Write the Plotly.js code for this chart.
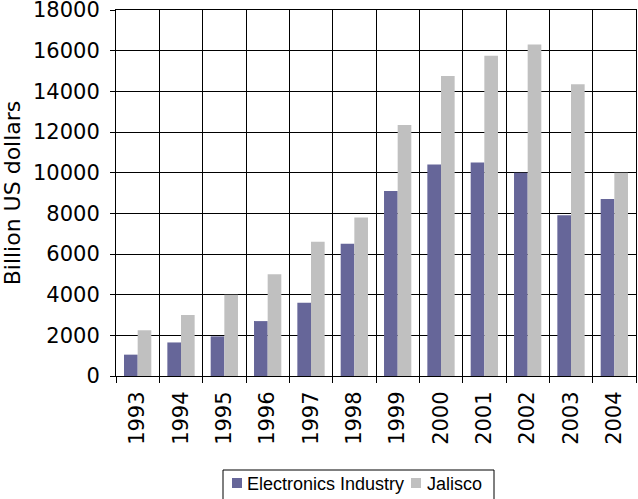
<!DOCTYPE html>
<html>
<head>
<meta charset="utf-8">
<script src="https://cdn.plot.ly/plotly-3.0.1.min.js"></script>
<style>
  html, body { margin: 0; padding: 0; background: #ffffff; }
  #chart { width: 638px; height: 499px; }
</style>
</head>
<body>
<div id="chart"></div>
<script>
// Annual values, billion US dollars
const years = ['1993', '1994', '1995', '1996', '1997', '1998',
               '1999', '2000', '2001', '2002', '2003', '2004'];
const electronicsIndustry = [1050, 1650, 1950, 2700, 3600, 6500,
                             9100, 10400, 10500, 10000, 7900, 8700];
const jalisco = [2250, 3000, 4000, 5000, 6600, 7800,
                 12350, 14750, 15750, 16300, 14350, 10000];
const yTicks = [0, 2000, 4000, 6000, 8000, 10000, 12000, 14000, 16000, 18000];

const seriesNames = ['Electronics Industry', 'Jalisco'];
const seriesColors = ['#666699', '#c0c0c0'];

// Plot-area geometry in pixels
const W = 638, H = 499;
const M = { l: 116, r: 2, t: 10, b: 123 };
const plotW = W - M.l - M.r;
const plotH = H - M.t - M.b;
const px = (x) => (x - M.l) / plotW;          // pixel x -> paper x
const py = (y) => (H - M.b - y) / plotH;      // pixel y -> paper y

const traces = [electronicsIndustry, jalisco].map((vals, i) => ({
  type: 'bar',
  name: seriesNames[i],
  x: years,
  y: vals,
  marker: { color: seriesColors[i], line: { width: 0 } },
  hoverinfo: 'skip'
}));

// Boxed legend below the axis: frame, colour keys and labels
const legendBox = { x0: 223, x1: 494, y0: 470, y1: 506 };
const keyX = [232, 411];
const labelX = [245, 425];
const keyTop = 478, keySize = 10, labelMid = 484;

const shapes = [
  {
    type: 'rect', xref: 'paper', yref: 'paper',
    x0: px(legendBox.x0), x1: px(legendBox.x1),
    y0: py(legendBox.y1), y1: py(legendBox.y0),
    line: { color: '#000000', width: 1 }, fillcolor: '#ffffff', layer: 'above'
  }
].concat(seriesNames.map((n, i) => ({
  type: 'rect', xref: 'paper', yref: 'paper',
  x0: px(keyX[i]), x1: px(keyX[i] + keySize),
  y0: py(keyTop + keySize), y1: py(keyTop),
  line: { width: 0 }, fillcolor: seriesColors[i], layer: 'above'
})));

const annotations = seriesNames.map((n, i) => ({
  text: n, xref: 'paper', yref: 'paper',
  x: px(labelX[i]), y: py(labelMid),
  xanchor: 'left', yanchor: 'middle', showarrow: false,
  font: { family: 'Liberation Sans, Arial, sans-serif', size: 18, color: '#000000' }
}));

const axisFont = { family: 'DejaVu Sans, Verdana, sans-serif', size: 21, color: '#000000' };

const layout = {
  width: W,
  height: H,
  margin: M,
  paper_bgcolor: '#ffffff',
  plot_bgcolor: '#ffffff',
  barmode: 'group',
  bargap: 0.37,
  bargroupgap: 0,
  font: axisFont,
  showlegend: false,
  xaxis: {
    type: 'category',
    tickson: 'boundaries',
    showgrid: true,
    gridcolor: '#000000',
    gridwidth: 1,
    showline: true,
    linecolor: '#000000',
    linewidth: 1,
    mirror: true,
    ticks: 'outside',
    ticklen: 6,
    tickcolor: '#000000',
    tickangle: -90,
    ticklabelstandoff: 6,
    tickfont: axisFont,
    automargin: false
  },
  yaxis: {
    range: [0, 18000],
    tickvals: yTicks,
    ticktext: yTicks.map(String),
    showgrid: true,
    gridcolor: '#000000',
    gridwidth: 1,
    zeroline: false,
    showline: true,
    linecolor: '#000000',
    linewidth: 1,
    mirror: true,
    ticks: 'outside',
    ticklen: 5,
    tickcolor: '#000000',
    ticklabelstandoff: 6,
    ticklabeloverflow: 'allow',
    tickfont: axisFont,
    title: {
      text: 'Billion US dollars',
      font: { family: 'DejaVu Sans, Verdana, sans-serif', size: 22, color: '#000000' },
      standoff: 6
    },
    automargin: false
  },
  shapes: shapes,
  annotations: annotations
};

Plotly.newPlot('chart', traces, layout, { staticPlot: true, displayModeBar: false });
</script>
</body>
</html>
